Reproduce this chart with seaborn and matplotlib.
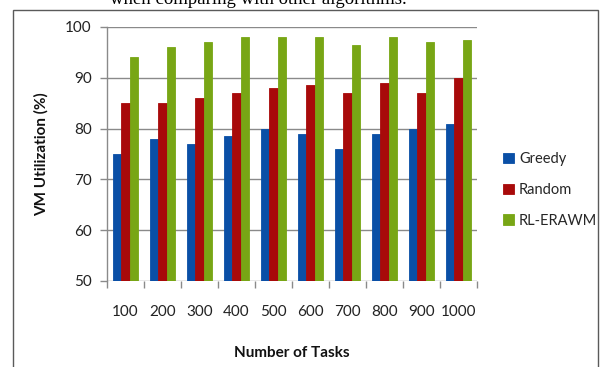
import matplotlib
matplotlib.use("Agg")
import matplotlib.pyplot as plt
import seaborn as sns
import pandas as pd
import numpy as np
from matplotlib.patches import Rectangle

tasks = ["100", "200", "300", "400", "500", "600", "700", "800", "900", "1000"]
greedy = [75, 78, 77, 78.5, 80, 79, 76, 79, 80, 81]
random_alloc = [85, 85, 86, 87, 88, 88.5, 87, 89, 87, 90]
rl_erawm = [94, 96, 97, 98, 98, 98, 96.5, 98, 97, 97.5]
series_names = ["Greedy", "Random", "RL-ERAWM"]
colors = ["#0A4FA6", "#A80A0A", "#78A615"]

df = pd.DataFrame({
    "Tasks": tasks * 3,
    "Utilization": greedy + random_alloc + rl_erawm,
    "Algorithm": [s for s in series_names for _ in tasks],
})

sns.set_theme(style="white")
plt.rcParams["font.family"] = ["Lato", "DejaVu Sans"]

W, H = 611, 367
fig = plt.figure(figsize=(W / 100, H / 100), dpi=100)
fig.patch.set_facecolor("white")

# caption fragment from the surrounding page
fig.text(407 / W, 1 - 3.5 / H, "when comparing with other algorithms.",
         ha="right", va="baseline", fontsize=13.5,
         family="Liberation Serif", color="black")

# chart frame
fig.patches.append(Rectangle((13 / W, -0.05), (598 - 13) / W, (1 - 9.5 / H) + 0.05,
                             transform=fig.transFigure, fill=False,
                             edgecolor="#5a5a5a", linewidth=1.0))

ax = fig.add_axes([107 / W, 1 - 281 / H, (477 - 107) / W, (281 - 27) / H])

sns.barplot(data=df, x="Tasks", y="Utilization", hue="Algorithm",
            palette=colors, width=0.66, gap=0, saturation=1,
            linewidth=0, ax=ax, legend=True)

# close the hairline seams between adjacent bars
for bar in ax.patches:
    bar.set_edgecolor(bar.get_facecolor())
    bar.set_linewidth(0.6)

ax.set_ylim(50, 100)
ax.set_xlim(-0.5, len(tasks) - 0.5)
ax.set_yticks(np.arange(50, 101, 10))
ax.yaxis.grid(True, color="#8a8a8a", linewidth=1.0)
ax.set_axisbelow(True)

for side in ["top", "right", "bottom"]:
    ax.spines[side].set_visible(False)
ax.spines["left"].set_color("#8a8a8a")
ax.spines["left"].set_linewidth(1.0)

ax.tick_params(axis="y", which="major", left=True, length=5, width=1,
               color="#8a8a8a", labelsize=11, labelcolor="#222222", pad=6)
ax.tick_params(axis="x", which="major", length=0, labelsize=11,
               labelcolor="#222222", pad=17)
ax.set_xticks(np.arange(-0.5, len(tasks), 1.0), minor=True)
ax.tick_params(axis="x", which="minor", bottom=True, length=5, width=1,
               color="#8a8a8a")

ax.set_xlabel("Number of Tasks", fontsize=11, fontweight="bold",
              color="#111111", labelpad=20)
ax.set_ylabel("VM Utilization (%)", fontsize=11, fontweight="bold",
              color="#111111", labelpad=12)

handles, labels = ax.get_legend_handles_labels()
ax.legend(handles, labels, loc="center left", bbox_to_anchor=(503 / W, 1 - 190 / H),
          bbox_transform=fig.transFigure, frameon=False, fontsize=10.5,
          handlelength=0.75, handleheight=0.75, handletextpad=0.35,
          labelspacing=1.15, borderaxespad=0, borderpad=0)

fig.savefig("out.png", dpi=100)
